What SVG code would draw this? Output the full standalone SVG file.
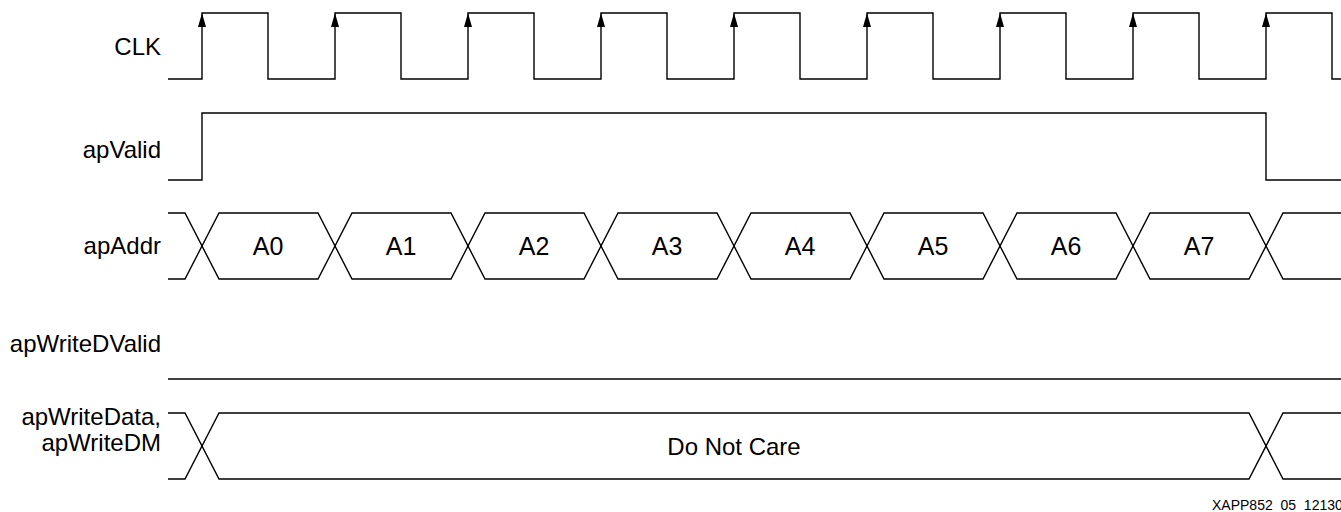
<svg xmlns="http://www.w3.org/2000/svg" width="1341" height="512" viewBox="0 0 1341 512">
<style>
.sig{fill:none;stroke:#000;stroke-width:1.4;stroke-linejoin:miter}
.lbl{font-family:"Liberation Sans",Arial,sans-serif;font-size:24px;fill:#000;text-anchor:end}
.val{font-family:"Liberation Sans",Arial,sans-serif;font-size:25px;fill:#000;text-anchor:middle}
.dnc{font-family:"Liberation Sans",Arial,sans-serif;font-size:24px;fill:#000;text-anchor:middle}
.foot{font-family:"Liberation Sans",Arial,sans-serif;font-size:14px;fill:#000}
</style>
<defs>
<path id="arr" d="M0,0 L-4,14 L4,14 Z" fill="#000"/>
</defs>
<rect width="1341" height="512" fill="#fff"/>
<g id="labels">
<text class="lbl" x="161" y="55">CLK</text>
<text class="lbl" x="161" y="158">apValid</text>
<text class="lbl" x="161" y="254">apAddr</text>
<text class="lbl" x="161" y="352">apWriteDValid</text>
<text class="lbl" x="161" y="425">apWriteData,</text>
<text class="lbl" x="161" y="451">apWriteDM</text>
</g>
<g id="connectors">
<g id="clk">
<path class="sig" d="M168,79 H202 V13 H268 V79 H335 V13 H401 V79 H468 V13 H534 V79 H601 V13 H667 V79 H734 V13 H800 V79 H867 V13 H933 V79 H1000 V13 H1066 V79 H1133 V13 H1199 V79 H1266 V13 H1332 V79 H1341"/>
<use href="#arr" x="202" y="13"/>
<use href="#arr" x="335" y="13"/>
<use href="#arr" x="468" y="13"/>
<use href="#arr" x="601" y="13"/>
<use href="#arr" x="734" y="13"/>
<use href="#arr" x="867" y="13"/>
<use href="#arr" x="1000" y="13"/>
<use href="#arr" x="1133" y="13"/>
<use href="#arr" x="1266" y="13"/>
</g>
<g id="apvalid">
<path class="sig" d="M168,180 H202 V113 H1266 V180 H1341"/>
</g>
<g id="apaddr">
<path class="sig" d="M168,213 H185 L219,279 H318 L352,213 H451 L485,279 H584 L618,213 H717 L751,279 H850 L884,213 H983 L1017,279 H1116 L1150,213 H1249 L1283,279 H1341"/>
<path class="sig" d="M168,279 H185 L219,213 H318 L352,279 H451 L485,213 H584 L618,279 H717 L751,213 H850 L884,279 H983 L1017,213 H1116 L1150,279 H1249 L1283,213 H1341"/>
</g>
<g id="apwritedvalid">
<path class="sig" d="M168,379 H1341"/>
</g>
<g id="apwritedata">
<path class="sig" d="M168,413 H185 L219,479 H1249 L1283,413 H1341"/>
<path class="sig" d="M168,479 H185 L219,413 H1249 L1283,479 H1341"/>
</g>
</g>
<g id="values">
<text class="val" x="268" y="255">A0</text>
<text class="val" x="401" y="255">A1</text>
<text class="val" x="534" y="255">A2</text>
<text class="val" x="667" y="255">A3</text>
<text class="val" x="800" y="255">A4</text>
<text class="val" x="933" y="255">A5</text>
<text class="val" x="1066" y="255">A6</text>
<text class="val" x="1199" y="255">A7</text>
<text class="dnc" x="734" y="455">Do Not Care</text>
</g>
<text class="foot" x="1212" y="510">XAPP852_05_121306</text>
</svg>
